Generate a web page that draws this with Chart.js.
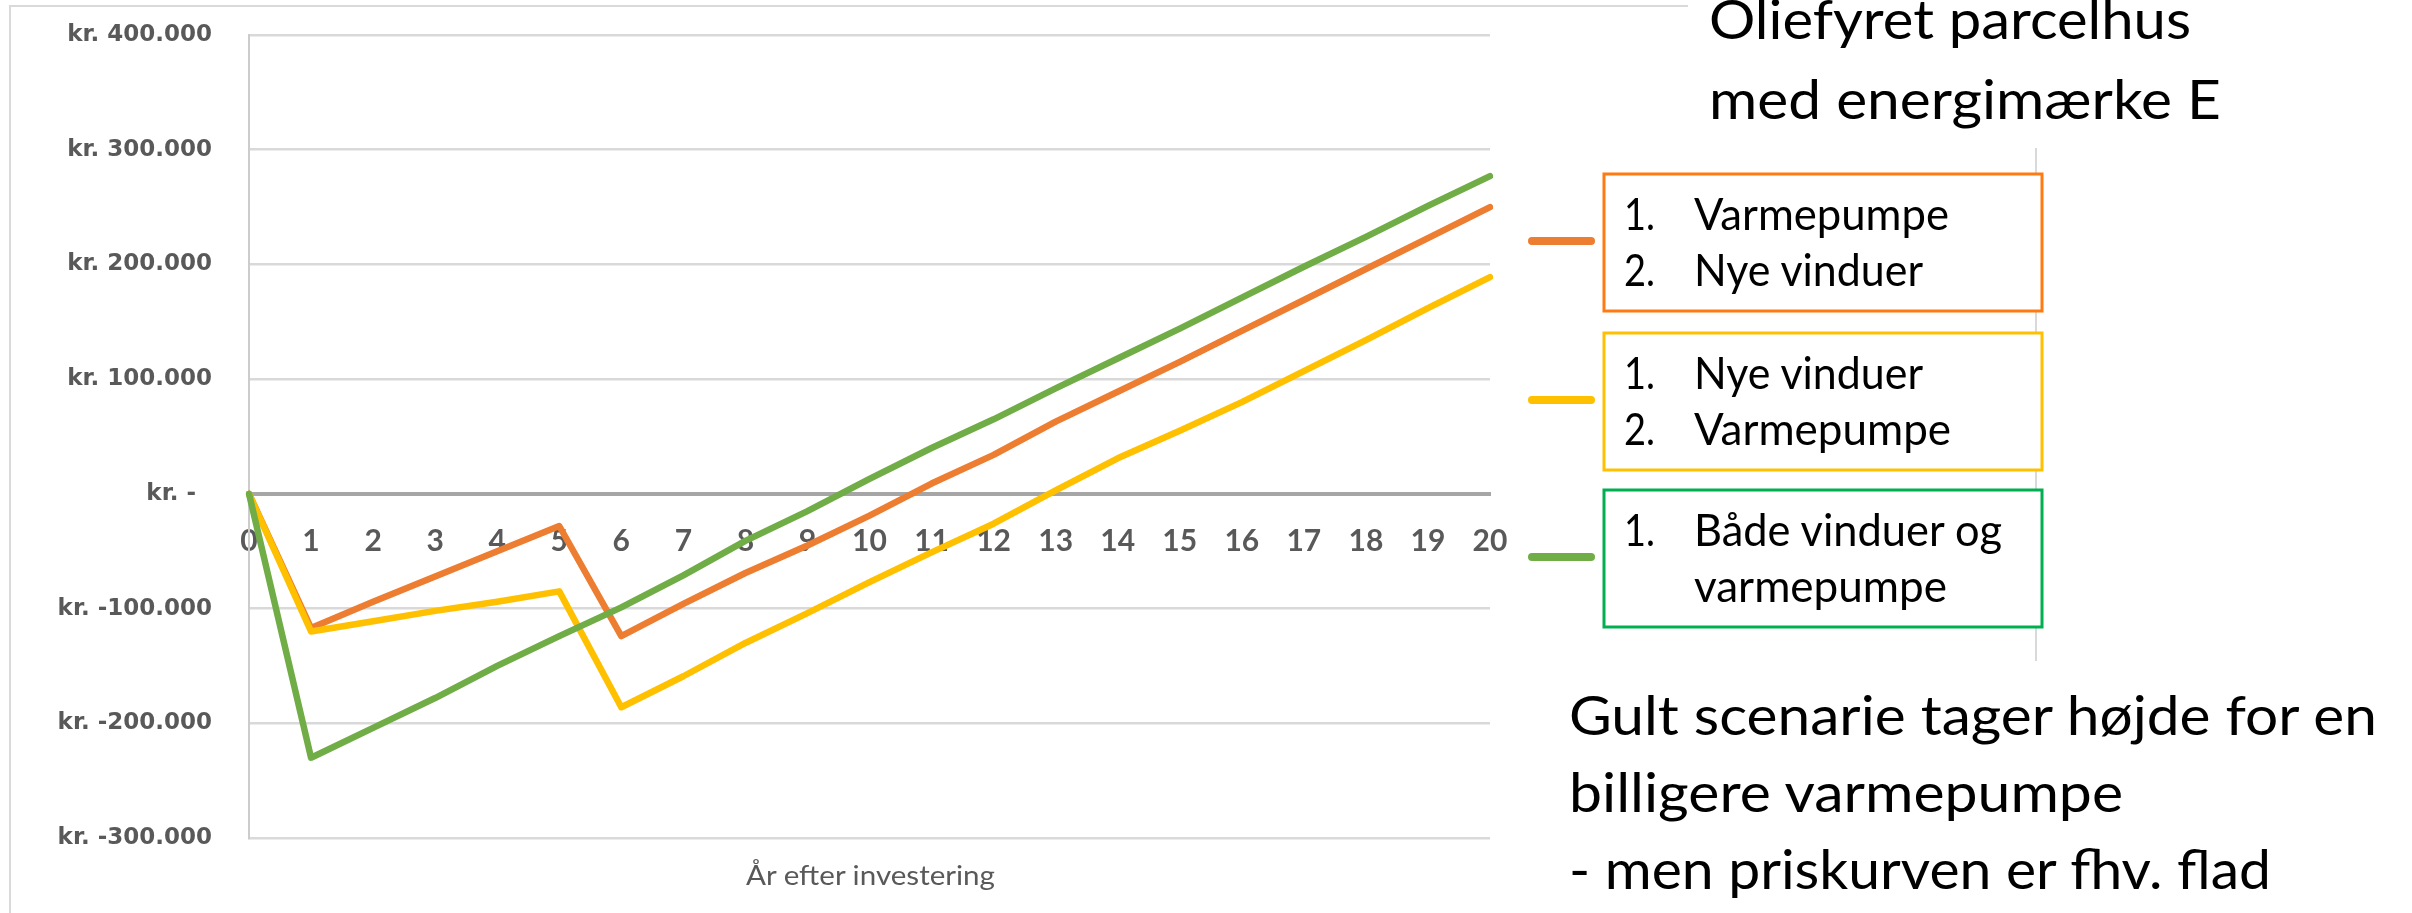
<!DOCTYPE html>
<html><head><meta charset="utf-8">
<script src="https://cdn.jsdelivr.net/npm/chart.js@4/dist/chart.umd.min.js"></script>
<style>
html,body{margin:0;padding:0;background:#fff;width:2412px;height:913px;overflow:hidden}
#wrap{position:absolute;left:0;top:0;width:2412px;height:913px}
#ov{position:absolute;left:0;top:0;pointer-events:none}
</style></head><body>
<div id="wrap"><canvas id="c"></canvas></div>
<svg id="ov" width="2412" height="913" xmlns="http://www.w3.org/2000/svg"></svg>
<script>
// ---- data ----
const years = ['0','1','2','3','4','5','6','7','8','9','10','11','12','13','14','15','16','17','18','19','20'];
const orangeValues = [0,-117000,-94000,-72000,-50000,-28000,-124000,-96000,-69000,-45000,-19000,9000,34000,63000,89000,115000,142000,169000,196000,223000,250000];
const yellowValues = [0,-120000,-111000,-102000,-94000,-85000,-186000,-159000,-130000,-104000,-77000,-51000,-26000,3000,31000,55000,80000,107000,134000,162000,189000];
const greenValues  = [0,-230000,-204000,-178000,-150000,-124000,-99000,-71000,-41000,-15000,13000,40000,65000,92000,118000,144000,171000,198000,224000,251000,277000];
const yTickValues = [-300000,-200000,-100000,0,100000,200000,300000,400000];
const yTickLabels = ['kr. -300.000','kr. -200.000','kr. -100.000','kr. -\u2007','kr. 100.000','kr. 200.000','kr. 300.000','kr. 400.000'];
const xAxisTitle = 'År efter investering';
const orangeLegend = [['1.','Varmepumpe'],['2.','Nye vinduer']];
const yellowLegend = [['1.','Nye vinduer'],['2.','Varmepumpe']];
const greenLegend  = [['1.','Både vinduer og'],['','varmepumpe']];
const titleLines = ['Oliefyret parcelhus','med energimærke E'];
const noteLines = ['Gult scenarie tager højde for en','billigere varmepumpe','- men priskurven er fhv. flad'];

// ---- styles ----
const C_ORANGE = '#ED7D31', C_YELLOW = '#FFC000', C_GREEN = '#70AD47';

new Chart(document.getElementById('c'), {
  type: 'line',
  data: {
    labels: years,
    datasets: [
      {label: 'green', data: greenValues, borderColor: C_GREEN},
      {label: 'yellow', data: yellowValues, borderColor: C_YELLOW},
      {label: 'orange', data: orangeValues, borderColor: C_ORANGE}
    ]
  },
  options: {
    responsive: true, maintainAspectRatio: false, animation: false, devicePixelRatio: 1,
    layout: {padding: {left: 0, right: 922, top: 35, bottom: 75}},
    elements: {
      point: {radius: 0, hoverRadius: 0},
      line: {borderWidth: 6.5, tension: 0, borderJoinStyle: 'round', borderCapStyle: 'round', fill: false}
    },
    plugins: {legend: {display: false}, tooltip: {enabled: false}},
    scales: {
      x: {
        type: 'category', position: {y: 0}, offset: false,
        grid: {display: false, drawTicks: false},
        border: {display: true, color: '#A6A6A6', width: 4},
        ticks: {color: '#595959', font: {family: 'Lato', size: 30, weight: 'bold'}, padding: 29, maxRotation: 0, autoSkip: false}
      },
      y: {
        min: -300000, max: 400000,
        afterBuildTicks: s => { s.ticks = yTickValues.map(v => ({value: v})); },
        afterFit: s => { s.width = 249; },
        grid: {color: c => (c.tick && c.tick.value === 0) ? 'rgba(0,0,0,0)' : '#D9D9D9', lineWidth: 2.5,
               drawTicks: true, tickLength: 37, tickColor: 'rgba(0,0,0,0)'},
        border: {display: true, color: '#CCCCCC', width: 2},
        ticks: {color: '#595959', font: {family: 'DejaVu Sans', size: 23, weight: 'bold'}, padding: 0,
                callback: v => yTickLabels[yTickValues.indexOf(v)]}
      }
    }
  }
});

// ---- annotation overlay ----
const NS = 'http://www.w3.org/2000/svg';
const ov = document.getElementById('ov');
function el(name, attrs, text) {
  const e = document.createElementNS(NS, name);
  for (const k in attrs) e.setAttribute(k, attrs[k]);
  if (text !== undefined) e.textContent = text;
  ov.appendChild(e);
  return e;
}
function txt(s, x, y, size, width, color) {
  if (!s) return;
  const a = {x: x, y: y, 'font-family': 'Lato', 'font-size': size, fill: color || '#000'};
  if (width) { a.textLength = width; a.lengthAdjust = 'spacingAndGlyphs'; }
  el('text', a, s);
}
// chart frame
el('polyline', {points: '10,913 10,6 1688,6', fill: 'none', stroke: '#D9D9D9', 'stroke-width': 2});
el('line', {x1: 2036, y1: 148, x2: 2036, y2: 661, stroke: '#D9D9D9', 'stroke-width': 2});
// axis title
txt(xAxisTitle, 746, 885, 26, 249, '#595959');
// title
txt(titleLines[0], 1709, 39, 55, 482);
txt(titleLines[1], 1709, 119, 55, 512);
// note
txt(noteLines[0], 1569, 735, 55, 808);
txt(noteLines[1], 1569, 812, 55, 554);
txt(noteLines[2], 1569, 889, 55, 702);
// legend
const legends = [
  {lines: orangeLegend, line: C_ORANGE, box: '#FF7A10', top: 174, w: [[31,255],[31,229]]},
  {lines: yellowLegend, line: C_YELLOW, box: '#FFC000', top: 333, w: [[31,229],[31,257]]},
  {lines: greenLegend,  line: C_GREEN,  box: '#00B050', top: 490, w: [[31,308],[0,253]]}
];
legends.forEach(L => {
  el('rect', {x: 1604, y: L.top, width: 438, height: 137, fill: '#fff', stroke: L.box, 'stroke-width': 3});
  el('line', {x1: 1532, y1: L.top + 67, x2: 1591, y2: L.top + 67, stroke: L.line, 'stroke-width': 8, 'stroke-linecap': 'round'});
  L.lines.forEach((ln, i) => {
    const by = L.top + 56 + i * 56;
    txt(ln[0], 1624, by, 45, L.w[i][0]);
    txt(ln[1], 1694, by, 45, L.w[i][1]);
  });
});
</script>
</body></html>
